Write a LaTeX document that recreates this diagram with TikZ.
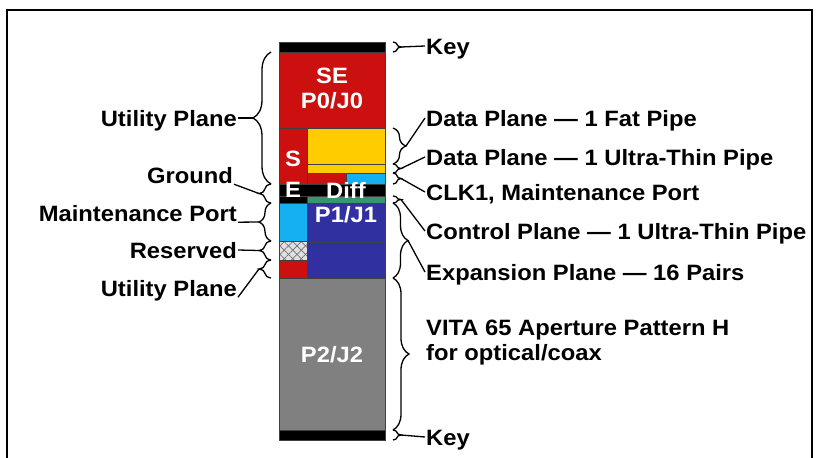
\documentclass[tikz,border=0pt]{standalone}
\usepackage{fontspec}
\setmainfont{Liberation Sans}[FakeStretch=1.07]
\usetikzlibrary{decorations.pathreplacing,patterns.meta}

\definecolor{sered}{RGB}{204,16,16}
\definecolor{fatyellow}{RGB}{255,204,0}
\definecolor{mpcyan}{RGB}{20,176,240}
\definecolor{pblue}{RGB}{48,48,160}
\definecolor{ctgreen}{RGB}{56,150,110}
\definecolor{apgray}{RGB}{128,128,128}

\tikzset{
  lbl/.style={font=\bfseries\fontsize{22.2}{25}\selectfont, inner sep=1pt, text height=16pt, text depth=0pt},
  pin/.style={font=\bfseries\fontsize{22.2}{25}\selectfont, text=white, inner sep=0pt},
  blk/.style={draw=black!75, line width=0.5pt},
  brc/.style={decorate, decoration={brace, amplitude=#1}, line width=1.3pt},
  brc/.default=8pt,
  lead/.style={line width=1.3pt},
}

\begin{document}
\begin{tikzpicture}[x=1pt,y=-1pt]
\useasboundingbox (0,0) rectangle (823,458);
\draw[line width=1.6pt] (7,470) -- (7,10) -- (812,10) -- (812,470);

% connector column
\filldraw[blk,fill=black] (279,42) rectangle (385,52);
\filldraw[blk,fill=sered] (279,52) rectangle (385,128);
\filldraw[blk,fill=sered] (279,128) rectangle (307,184);
\filldraw[blk,fill=fatyellow] (307,128) rectangle (385,164);
\filldraw[blk,fill=fatyellow] (307,164) rectangle (385,173);
\filldraw[blk,fill=sered] (307,173) rectangle (346,184);
\filldraw[blk,fill=mpcyan] (346,173) rectangle (385,184);
\filldraw[blk,fill=black] (279,184) rectangle (385,196);
\filldraw[blk,fill=black] (279,196) rectangle (307,203);
\filldraw[blk,fill=ctgreen] (307,196) rectangle (385,203);
\filldraw[blk,fill=mpcyan] (279,203) rectangle (307,241);
\fill[black!12] (279,241) rectangle (307,260);
\fill[pattern={Lines[angle=45,distance=6pt,line width=0.7pt]}, pattern color=black!55] (279,241) rectangle (307,260);
\fill[pattern={Lines[angle=-45,distance=6pt,line width=0.7pt]}, pattern color=black!55] (279,241) rectangle (307,260);
\draw[blk] (279,241) rectangle (307,260);
\filldraw[blk,fill=sered] (279,260) rectangle (307,278);
\filldraw[blk,fill=pblue] (307,203) rectangle (385,242);
\filldraw[blk,fill=pblue] (307,242) rectangle (385,278);
\filldraw[blk,fill=apgray] (279,278) rectangle (385,430);
\filldraw[blk,fill=black] (279,430) rectangle (385,440);

\node[pin] (se) at (332,76) {SE};
\node[pin] (p0) at (332,101) {P0/J0};
\node[pin] (s) at (293,159) {S};
\node[pin] (e) at (293,190) {E};
\node[pin] (diff) at (346,190) {Diff};
\node[pin] (p1) at (346,215) {P1/J1};
\node[pin] (p2) at (332,355) {P2/J2};

% right labels
\node[lbl,anchor=west] (keytop) at (425,46) {Key};
\node[lbl,anchor=west] (fat) at (425,118) {Data Plane — 1 Fat Pipe};
\node[lbl,anchor=west] (thin) at (425,157) {Data Plane — 1 Ultra-Thin Pipe};
\node[lbl,anchor=west] (clk) at (425,192) {CLK1, Maintenance Port};
\node[lbl,anchor=west] (ctrl) at (425,231) {Control Plane — 1 Ultra-Thin Pipe};
\node[lbl,anchor=west] (expn) at (425,272) {Expansion Plane — 16 Pairs};
\node[lbl,anchor=west,align=left] (vita) at (425,352) {VITA 65 Aperture Pattern H\\for optical/coax};
\node[lbl,anchor=west] (keybot) at (425,437) {Key};

% left labels
\node[lbl,anchor=east] (utiltop) at (238,118) {Utility Plane};
\node[lbl,anchor=east] (gnd) at (234,175) {Ground};
\node[lbl,anchor=east] (maint) at (238,213) {Maintenance Port};
\node[lbl,anchor=east] (resv) at (238,250) {Reserved};
\node[lbl,anchor=east] (utilbot) at (238,288) {Utility Plane};

% right braces
\draw[brc] (393,42) -- (393,52);
\draw[brc=13pt] (393,128) -- (393,164);
\draw[brc] (393,164) -- (393,173);
\draw[brc] (393,173) -- (393,184);
\draw[brc] (393,196) -- (393,203);
\draw[brc=15pt] (393,203) -- (393,278);
\draw[brc=16pt] (393,278) -- (393,430);
\draw[brc] (393,430) -- (393,440);

\coordinate (keytopTip) at (401,47);
\coordinate (fatTip) at (406,146);
\coordinate (thinTip) at (401,168.5);
\coordinate (clkTip) at (401,178.5);
\coordinate (ctrlTip) at (401,199.5);
\coordinate (expnTip) at (408,240.5);
\coordinate (keybotTip) at (401,435);

\draw[lead] (keytopTip) -- (keytop.west);
\draw[lead] (fatTip) -- (fat.west);
\draw[lead] (thinTip) -- (thin.west);
\draw[lead] (clkTip) -- (clk.west);
\draw[lead] (ctrlTip) -- (ctrl.west);
\draw[lead] (expnTip) -- (expn.west);
\draw[lead] (keybotTip) -- (keybot.west);

% left braces
\draw[brc=18pt] (271,184) -- (271,52);
\draw[brc=12pt] (271,203) -- (271,184);
\draw[brc=12pt] (271,241) -- (271,203);
\draw[brc=12pt] (271,260) -- (271,241);
\draw[brc=12pt] (271,278) -- (271,260);

\coordinate (utiltopTip) at (253,118);
\coordinate (gndTip) at (259,193.5);
\coordinate (maintTip) at (259,222);
\coordinate (resvTip) at (259,250.5);
\coordinate (utilbotTip) at (259,269);

\draw[lead] (utiltopTip) -- (utiltop.east);
\draw[lead] (gndTip) -- (gnd.south east);
\draw[lead] (maintTip) -- (maint.south east);
\draw[lead] (resvTip) -- (resv.east);
\draw[lead] (utilbotTip) -- (utilbot.south east);
\end{tikzpicture}
\end{document}
